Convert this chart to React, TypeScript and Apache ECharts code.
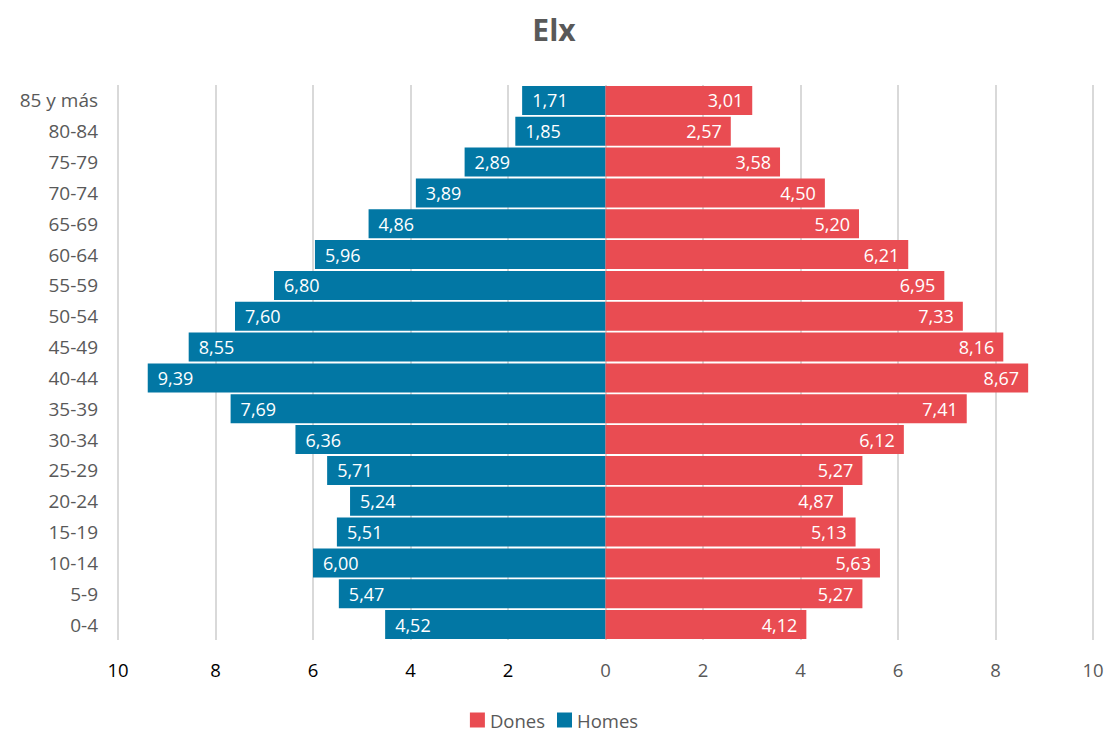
import React, { useEffect, useRef } from "react";
import * as echarts from "echarts";

const ageGroups = [
  "0-4", "5-9", "10-14", "15-19", "20-24", "25-29", "30-34", "35-39", "40-44",
  "45-49", "50-54", "55-59", "60-64", "65-69", "70-74", "75-79", "80-84", "85 y más",
];
const homes = [4.52, 5.47, 6.0, 5.51, 5.24, 5.71, 6.36, 7.69, 9.39, 8.55, 7.6, 6.8, 5.96, 4.86, 3.89, 2.89, 1.85, 1.71];
const dones = [4.12, 5.27, 5.63, 5.13, 4.87, 5.27, 6.12, 7.41, 8.67, 8.16, 7.33, 6.95, 6.21, 5.2, 4.5, 3.58, 2.57, 3.01];

const BLUE = "#0277a4";
const RED = "#e94c52";
const FONT = "'Open Sans', 'Noto Sans', sans-serif";

const fmt = (v: number) => Math.abs(v).toFixed(2).replace(".", ",");

export default function App() {
  const ref = useRef<HTMLDivElement>(null);
  useEffect(() => {
    document.body.style.margin = "0";
    if (!ref.current) return;
    const chart = echarts.init(ref.current, null, { renderer: "svg" });
    chart.setOption({
      animation: false,
      textStyle: { fontFamily: FONT },
      title: {
        text: "Elx",
        left: "center",
        top: 9,
        textStyle: { fontSize: 30, fontWeight: "bold", color: "#595959", fontFamily: FONT },
      },
      legend: {
        bottom: 5,
        left: "center",
        data: ["Dones", "Homes"],
        icon: "rect",
        itemWidth: 15,
        itemHeight: 15,
        itemGap: 12,
        padding: 0,
        textStyle: { fontSize: 18.5, color: "#595959", fontFamily: FONT, lineHeight: 20 },
      },
      grid: { left: 118, right: 15, top: 85, bottom: 95, containLabel: false },
      xAxis: {
        type: "value",
        min: -10,
        max: 10,
        interval: 2,
        axisLine: { show: false },
        axisTick: { show: false },
        splitLine: { show: true, lineStyle: { color: "#d9d9d9", width: 2 } },
        axisLabel: {
          fontSize: 18.5,
          margin: 20,
          formatter: (v: number) => String(Math.abs(v)),
          color: (v: any) => (Number(v) < 0 ? "#000000" : "#595959"),
        },
      },
      yAxis: {
        type: "category",
        data: ageGroups,
        axisLine: { show: false },
        axisTick: { show: false },
        axisLabel: { fontSize: 19, color: "#595959", margin: 20 },
      },
      series: [
        {
          name: "Homes",
          type: "bar",
          data: homes.map((v) => -v),
          barGap: "-100%",
          barCategoryGap: "6%",
          itemStyle: { color: BLUE },
          label: {
            show: true,
            position: "insideLeft",
            color: "#ffffff",
            fontSize: 18,
            distance: 10,
            formatter: (p: any) => fmt(p.value),
          },
        },
        {
          name: "Dones",
          type: "bar",
          data: dones,
          barGap: "-100%",
          barCategoryGap: "6%",
          itemStyle: { color: RED },
          label: {
            show: true,
            position: "insideRight",
            color: "#ffffff",
            fontSize: 18,
            distance: 9,
            formatter: (p: any) => fmt(p.value),
          },
        },
      ],
    });
    return () => chart.dispose();
  }, []);
  return <div ref={ref} style={{ width: 1108, height: 735 }} />;
}
